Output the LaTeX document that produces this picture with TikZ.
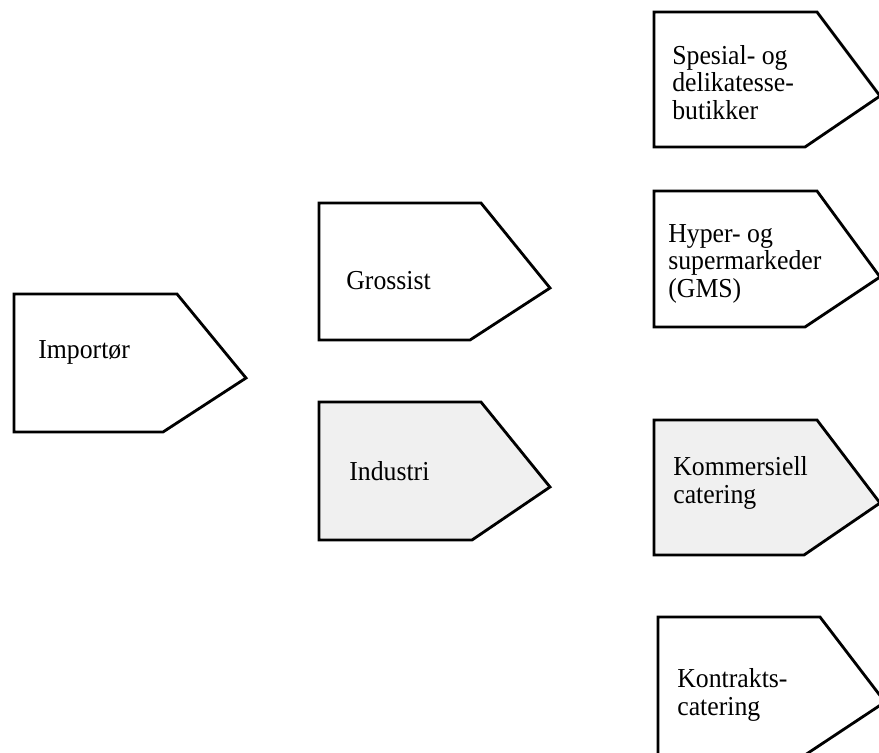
\documentclass[tikz,border=0pt]{standalone}
\usepackage{fontspec}
\setmainfont{Liberation Serif}

\tikzset{
  tag/.style = {draw=black, line width=1.6pt, line join=miter},
  grey/.style = {fill=black!6},
  lbl/.style = {anchor=base west, inner sep=0pt, align=left, xscale=0.94,
    font=\fontsize{15.6}{15.4}\selectfont}
}

\begin{document}
\begin{tikzpicture}[x=0.02cm, y=-0.02cm]
\useasboundingbox (0,0) rectangle (879,752);

% first link
\draw[tag] (14,294) -- (177,294) -- (246,378) -- (163,432) -- (14,432) -- cycle;
\node[lbl] (imp) at (38,358) {Importør};

% middle
\draw[tag] (319,203) -- (481,203) -- (550,288) -- (470,340) -- (319,340) -- cycle;
\node[lbl] (gross) at (346,289) {Grossist};
\draw[tag, grey] (319,402) -- (481,402) -- (550,487) -- (472,540) -- (319,540) -- cycle;
\node[lbl] (ind) at (349,480) {Industri};

% outlets (base = last line)
\draw[tag] (654,12) -- (817,12) -- (880,96) -- (805,147) -- (654,147) -- cycle;
\node[lbl] (spes) at (672,119) {Spesial- og\\delikatesse-\\butikker};
\draw[tag] (654,191) -- (817,191) -- (880,277) -- (805,327) -- (654,327) -- cycle;
\node[lbl] (hyper) at (668,297) {Hyper- og\\supermarkeder\\(GMS)};
\draw[tag, grey] (654,420) -- (817,420) -- (880,503) -- (804,555) -- (654,555) -- cycle;
\node[lbl] (komm) at (673,503) {Kommersiell\\catering};
\draw[tag] (658,617) -- (820,617) -- (885,702) -- (805,755) -- (658,755) -- cycle;
\node[lbl] (kontr) at (677,715) {Kontrakts-\\catering};
\end{tikzpicture}
\end{document}
